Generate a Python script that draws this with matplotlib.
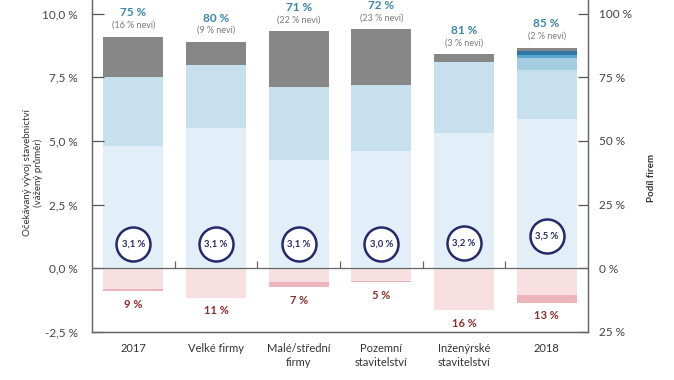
import matplotlib
matplotlib.use("Agg")
import matplotlib.pyplot as plt
import numpy as np

plt.rcParams['font.family'] = ['Lato', 'DejaVu Sans']

categories = ["2017", "Velké firmy", "Malé/střední\nfirmy", "Pozemní\nstavitelství",
              "Inženýrské\nstavitelství", "2018"]

# share of firms (%), positive stack (bottom -> top)
grow_light = [48.0, 55.0, 42.5, 46.0, 53.0, 58.6]
grow_mid = [27.0, 25.0, 28.5, 26.0, 28.0, 19.1]
grow_mid2 = [0, 0, 0, 0, 0, 4.8]
grow_blue = [0, 0, 0, 0, 0, 1.2]
grow_dark = [0, 0, 0, 0, 0, 1.5]
dont_know = [16.0, 9.0, 22.0, 22.0, 3.0, 1.5]
# negative stack (magnitudes)
fall_light = [8.2, 11.5, 5.5, 4.8, 16.5, 10.5]
fall_dark = [0.8, 0.0, 2.0, 0.7, 0.0, 3.0]

growth_labels = ["75 %", "80 %", "71 %", "72 %", "81 %", "85 %"]
nevi_labels = ["(16 % nevi)", "(9 % nevi)", "(22 % nevi)", "(23 % nevi)", "(3 % nevi)", "(2 % nevi)"]
fall_labels = ["9 %", "11 %", "7 %", "5 %", "16 %", "13 %"]
avg_labels = ["3,1 %", "3,1 %", "3,1 %", "3,0 %", "3,2 %", "3,5 %"]

# layout only: vertical placement of the circles (left axis units)
circle_y = [0.95, 0.95, 0.95, 0.95, 1.0, 1.25]

fig = plt.figure(figsize=(6.74, 3.80), dpi=100)
ax = fig.add_axes([92/674, 1-332/380, 496/674, 332/380 + 0.001])
ax2 = ax.twinx()

x = np.arange(len(categories))
w = 0.725

c_light = "#e2eff8"
c_mid = "#c6e0ee"
c_mid2 = "#a5cde2"
c_blue = "#5aa7cf"
c_dark = "#2e77a5"
c_gray = "#878787"
c_pink = "#f8dfe2"
c_pink_dark = "#ebb5bb"

bottom = np.zeros(len(x))
for vals, col in [(grow_light, c_light), (grow_mid, c_mid), (grow_mid2, c_mid2),
                  (grow_blue, c_blue), (grow_dark, c_dark), (dont_know, c_gray)]:
    v = np.array(vals)
    ax2.bar(x, v, w, bottom=bottom, color=col, linewidth=0, zorder=2)
    bottom += v
neg_bottom = np.zeros(len(x))
for vals, col in [(fall_light, c_pink), (fall_dark, c_pink_dark)]:
    v = -np.array(vals)
    ax2.bar(x, v, w, bottom=neg_bottom, color=col, linewidth=0, zorder=2)
    neg_bottom += v

top_tot = bottom
for i in range(len(x)):
    ax2.annotate(nevi_labels[i], (x[i], top_tot[i]), xytext=(0, 8), textcoords='offset points',
                 ha='center', va='center', fontsize=6.5, color='#7a7a7a')
    ax2.annotate(growth_labels[i], (x[i], top_tot[i]), xytext=(0, 17), textcoords='offset points',
                 ha='center', va='center', fontsize=8.5, color='#3a85ab', fontweight='bold')
    ax2.annotate(fall_labels[i], (x[i], neg_bottom[i]), xytext=(0, -9.5), textcoords='offset points',
                 ha='center', va='center', fontsize=8, color='#8c2e2e', fontweight='bold')

# circles with weighted average
ax.scatter(x, circle_y, s=600, facecolor='white', edgecolor='#262a6b', linewidth=1.8, zorder=5)
for i in range(len(x)):
    ax.text(x[i], circle_y[i], avg_labels[i], ha='center', va='center', fontsize=6.8,
            color='#262a6b', fontweight='bold', zorder=6)
ax.set_zorder(ax2.get_zorder() + 1)
ax.patch.set_visible(False)

ytop = 10 + 14/25.44
ax.set_ylim(-2.5, ytop)
ax2.set_ylim(-25, ytop*10)
ax.set_xlim(-0.5, 5.5)

ax.set_yticks([-2.5, 0, 2.5, 5, 7.5, 10])
ax.set_yticklabels(["-2,5 %", "0,0 %", "2,5 %", "5,0 %", "7,5 %", "10,0 %"])
ax2.set_yticks([-25, 0, 25, 50, 75, 100])
ax2.set_yticklabels(["25 %", "0 %", "25 %", "50 %", "75 %", "100 %"])

ax.set_xticks(x)
ax.set_xticklabels(categories, fontsize=8, color='#333333', linespacing=1.35)
ax.tick_params(axis='x', length=0, pad=8)
ax.tick_params(axis='y', direction='in', length=8.5, width=0.9, color='#555555',
               labelsize=8.5, labelcolor='#444444', pad=10)
ax2.tick_params(axis='y', direction='in', length=7.5, width=0.9, color='#555555',
                labelsize=8.5, labelcolor='#444444', pad=8)

for a in (ax, ax2):
    a.spines['top'].set_visible(False)
    for s in ('left', 'right', 'bottom'):
        a.spines[s].set_color('#666666')
        a.spines[s].set_linewidth(0.9)

# zero line and group separators
ax.axhline(0, color='#666666', lw=0.9, zorder=4)
ax.vlines(np.arange(0.5, 5.5, 1.0), 0, 0.27, color='#666666', lw=0.9, zorder=4)

fig.text(33/674, 1-173/380, "Očekávaný vývoj stavebnictví\n(vážený průměr)", rotation=90,
         ha='center', va='center', fontsize=7, color='#333333', linespacing=1.2)
fig.text(651/674, 1-178/380, "Podíl firem", rotation=90, ha='center', va='center',
         fontsize=7, color='#333333', fontweight='bold')

fig.savefig("out.png", dpi=100)
